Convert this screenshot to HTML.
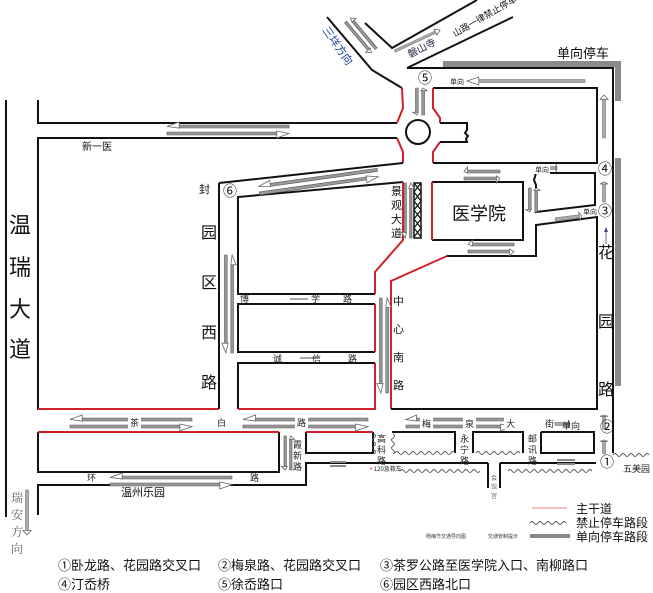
<!DOCTYPE html>
<html><head><meta charset="utf-8">
<style>
html,body{margin:0;padding:0;background:#fff;}
svg{display:block;font-family:"Liberation Sans","Noto Sans CJK SC",sans-serif;}
.k{fill:none;stroke:#111;stroke-width:2;}
.r{fill:none;stroke:#d0202a;stroke-width:2;}
.w{fill:none;stroke:#555;stroke-width:0.9;}
.bg{fill:#fff;}
</style></head><body>
<svg width="653" height="593" viewBox="0 0 653 593" xmlns="http://www.w3.org/2000/svg">
<defs>
<g id="da">
<rect x="9" y="-5" width="91" height="3" fill="#999" stroke="#555" stroke-width="0.6" vector-effect="non-scaling-stroke"/>
<polygon points="0,-3.5 10,-8 10,-2" fill="#fff" stroke="#666" stroke-width="0.8" vector-effect="non-scaling-stroke"/>
<rect x="0" y="2" width="91" height="3" fill="#999" stroke="#555" stroke-width="0.6" vector-effect="non-scaling-stroke"/>
<polygon points="100,3.5 90,1 90,8" fill="#fff" stroke="#666" stroke-width="0.8" vector-effect="non-scaling-stroke"/>
</g>
<g id="sa">
<rect x="9" y="-1.5" width="91" height="3" fill="#aaa" stroke="#666" stroke-width="0.5" vector-effect="non-scaling-stroke"/>
<polygon points="0,0 10,-4 10,4" fill="#fff" stroke="#666" stroke-width="0.8" vector-effect="non-scaling-stroke"/>
</g>
</defs>

<line x1="6" y1="100" x2="6" y2="517" class="k"/>

<polyline points="38,100 38,123 397,123" class="k"/>
<polyline points="38,515 38,485 306,485 306,463 488,463" class="k"/>
<line x1="500" y1="463" x2="596" y2="463" class="k"/>
<polyline points="488,463 488,488" class="k"/>
<polyline points="500,463 500,488" class="k"/>
<polyline points="219,409 38,409 38,138 397,138" class="k"/>
<line x1="38" y1="409" x2="219" y2="409" class="r"/>
<line x1="219" y1="183" x2="219" y2="409" class="k"/>

<polyline points="327,17 372,70 402,88" class="k"/>
<polyline points="402,88 403,108 397,123" class="r"/>
<polyline points="397,138 403,152 403,163" class="r"/>
<polyline points="403,163 219,183" class="k"/>
<polyline points="365,23 392,48 477,0" class="k"/>
<polyline points="407,68 513,17" class="k"/>
<circle cx="418" cy="132" r="12" class="k" stroke-width="1.5"/>
<polyline points="433,88 433,108 440,118 440,123" class="r"/>
<polyline points="440,123 467,123 467,130 465,133 468,136 466,139 467,142 440,142" class="k" stroke-width="1.5"/>
<polyline points="440,142 433,152 433,163" class="r"/>
<polyline points="433,88 597,88 597,163 433,163" class="k"/>
<line x1="433" y1="88" x2="433" y2="108" class="r"/>
<polyline points="407,68 613,68 613,228" class="k"/>
<rect x="443" y="61" width="177" height="6" fill="#8a8a8a"/>
<rect x="615" y="61" width="6" height="40" fill="#8a8a8a"/>
<rect x="615" y="158" width="6" height="228" fill="#8a8a8a"/>
<line x1="613" y1="228" x2="613" y2="453" class="k"/>

<polyline points="375,294 238,294 238,197 403,182" class="k"/>
<polyline points="403,182 403,240 375,272 375,294" class="r"/>
<polyline points="375,304 238,304 238,352 375,352" class="k"/>
<line x1="375" y1="304" x2="375" y2="352" class="r"/>
<polyline points="375,363 238,363 238,409" class="k"/>
<polyline points="375,363 375,409 238,409" class="r"/>
<rect x="414" y="183" width="7" height="55" fill="#fff" stroke="#111" stroke-width="1.5"/>
<polyline points="414,183 421,192 414,201 421,210 414,219 421,228 414,237" fill="none" stroke="#111" stroke-width="1.2"/>
<polyline points="421,183 414,192 421,201 414,210 421,219 414,228 421,237" fill="none" stroke="#111" stroke-width="1.2"/>
<polyline points="432,182 523,182 523,240 432,240" class="k"/>
<line x1="432" y1="182" x2="432" y2="240" class="r"/>
<polyline points="536,173 595,173 595,205 536,212 536,185 534,180 536,173" class="k"/>
<polyline points="391,409 391,281 447,256" class="r"/>
<polyline points="447,256 536,256 536,225 597,217 597,409 391,409" class="k"/>

<polyline points="38,432 38,472 279,472 279,432" class="k"/>
<line x1="38" y1="432" x2="279" y2="432" class="r"/>
<polyline points="306,432 306,453 373,453 373,432" class="k"/>
<line x1="306" y1="432" x2="373" y2="432" class="r"/>
<polyline points="392,432 455,432 455,453" class="k"/>
<polyline points="473,453 473,432 523,432 523,453" class="k"/>
<polyline points="541,432 594,432 594,453 541,453 541,432" class="k"/>
<path d="M374,434 q3,2 0,4 q-3,2 0,4 q3,2 0,4 q-3,2 0,4 q3,2 0,4" class="w"/>
<path d="M393,434 q3,2 0,4 q-3,2 0,4 q3,2 0,4 q-3,2 0,4 q3,2 0,4" class="w"/>
<path d="M395,453 q2,-3 4,0 q2,3 4,0 q2,-3 4,0 q2,3 4,0 q2,-3 4,0 q2,3 4,0 q2,-3 4,0 q2,3 4,0 q2,-3 4,0 q2,3 4,0 q2,-3 4,0 q2,3 4,0 q2,-3 4,0 q2,3 4,0 q2,-3 4,0" class="w"/>
<path d="M476,453 q2,-3 4,0 q2,3 4,0 q2,-3 4,0 q2,3 4,0 q2,-3 4,0 q2,3 4,0 q2,-3 4,0 q2,3 4,0 q2,-3 4,0 q2,3 4,0 q2,-3 4,0" class="w"/>
<path d="M400,471 q2,-3 4,0 q2,3 4,0 q2,-3 4,0 q2,3 4,0 q2,-3 4,0 q2,3 4,0 q2,-3 4,0 q2,3 4,0 q2,-3 4,0 q2,3 4,0 q2,-3 4,0 q2,3 4,0 q2,-3 4,0 q2,3 4,0 q2,-3 4,0 q2,3 4,0 q2,-3 4,0 q2,3 4,0 q2,-3 4,0 q2,3 4,0" class="w"/>
<path d="M508,471 q2,-3 4,0 q2,3 4,0 q2,-3 4,0 q2,3 4,0 q2,-3 4,0 q2,3 4,0 q2,-3 4,0 q2,3 4,0 q2,-3 4,0 q2,3 4,0 q2,-3 4,0 q2,3 4,0 q2,-3 4,0 q2,3 4,0 q2,-3 4,0 q2,3 4,0 q2,-3 4,0 q2,3 4,0 q2,-3 4,0 q2,3 4,0 q2,-3 4,0" class="w"/>
<path d="M613,455 q2,-3 4,0 q2,3 4,0 q2,-3 4,0 q2,3 4,0 q2,-3 4,0 q2,3 4,0 q2,-3 4,0 q2,3 4,0 q2,-3 4,0" class="w"/>

<use href="#da" transform="translate(167,130) scale(1.22,1)"/>
<use href="#da" transform="translate(259,190) rotate(-8) scale(1.2,1)"/>
<use href="#da" transform="translate(420,115) rotate(-90) scale(0.27,0.9)"/>
<use href="#da" transform="translate(464,175) scale(0.36,1)"/>
<use href="#da" transform="translate(468,248) scale(0.46,1)"/>
<use href="#da" transform="translate(533,212) rotate(-90) scale(0.24,0.9)"/>
<use href="#da" transform="translate(408,238) rotate(-90) scale(0.55,0.8)"/>
<use href="#da" transform="translate(229,255) rotate(90) scale(0.98,0.9)"/>
<use href="#da" transform="translate(384,298) rotate(90) scale(0.95,0.9)"/>
<use href="#da" transform="translate(70,423) scale(1.22,1)"/>
<use href="#da" transform="translate(243,423) scale(1.25,1)"/>
<use href="#da" transform="translate(406,423) scale(1.05,1)"/>
<use href="#da" transform="translate(288,436) rotate(90) scale(0.34,0.8)"/>
<use href="#da" transform="translate(110,481) scale(1.22,1)"/>
<use href="#da" transform="translate(348,20) rotate(50) scale(0.4,0.9)"/>
<use href="#sa" transform="translate(467,81) scale(1.18,1)"/>
<use href="#sa" transform="translate(604,95) rotate(90) scale(0.43,1)"/>
<use href="#sa" transform="translate(604,182) rotate(90) scale(0.2,1)"/>
<use href="#sa" transform="translate(604,415) rotate(90) scale(0.14,1)"/>
<use href="#sa" transform="translate(604,440) rotate(90) scale(0.14,1)"/>
<use href="#sa" transform="translate(440,30) rotate(155) scale(0.5,0.8)"/>
<use href="#sa" transform="translate(582,216) rotate(173) scale(0.27,1)"/>
<use href="#sa" transform="translate(570,424) rotate(180) scale(0.15,1)"/>
<use href="#sa" transform="translate(557,168) rotate(180) scale(0.1,1)"/>
<use href="#sa" transform="translate(27,535) rotate(-90) scale(0.45,1)"/>
<line x1="606" y1="228" x2="606" y2="244" stroke="#447" stroke-width="0.8"/>
<polygon points="606,227 604,232 608,232" fill="#447"/>
<rect x="330" y="461" width="16" height="2" fill="#888"/><rect x="330" y="465" width="16" height="2" fill="#888"/>
<rect x="557" y="459" width="18" height="2" fill="#888"/><rect x="557" y="463" width="18" height="2" fill="#888"/>
<line x1="290" y1="299" x2="308" y2="299" stroke="#555"/><line x1="300" y1="358" x2="316" y2="358" stroke="#555"/>

<!-- label backgrounds on arrows -->
<rect class="bg" x="128" y="416" width="13" height="13"/>
<rect class="bg" x="295" y="416" width="13" height="13"/>
<rect class="bg" x="420" y="416" width="13" height="13"/>
<rect class="bg" x="463" y="416" width="13" height="13"/>
<rect class="bg" x="504" y="416" width="13" height="13"/>
<rect class="bg" x="533" y="165" width="17" height="9"/>

<g font-size="22" fill="#111">
<text x="9" y="233">温</text><text x="9" y="275">瑞</text><text x="9" y="317">大</text><text x="9" y="357">道</text>
</g>
<g font-size="16" fill="#111">
<text x="201" y="238">园</text><text x="201" y="288">区</text><text x="201" y="338">西</text><text x="201" y="388">路</text>
<text x="598" y="258">花</text><text x="598" y="327">园</text><text x="598" y="395">路</text>
</g>
<text x="452" y="220" font-size="18" fill="#111">医学院</text>
<text x="557" y="58" font-size="13" fill="#111">单向停车</text>
<g font-size="11" fill="#111">
<text x="391" y="195">景</text><text x="391" y="209">观</text><text x="391" y="223">大</text><text x="391" y="237">道</text>
<text x="393" y="305">中</text><text x="393" y="333">心</text><text x="393" y="361">南</text><text x="393" y="389">路</text>
<text x="199" y="193">封</text>
<text x="82" y="150" font-size="10">新一医</text>
</g>
<g font-size="9" fill="#222">
<text x="130" y="426">茶</text><text x="217" y="426">白</text><text x="297" y="426">路</text>
<text x="422" y="427">梅</text><text x="465" y="427">泉</text><text x="506" y="427">大</text><text x="545" y="427">街</text><text x="562" y="429">单向</text>
<text x="240" y="302">博</text><text x="311" y="302">学</text><text x="343" y="302">路</text>
<text x="273" y="362">诚</text><text x="312" y="362">信</text><text x="348" y="362">路</text>
<text x="377" y="442">高</text><text x="377" y="453">科</text><text x="377" y="464">路</text>
<text x="460" y="442">永</text><text x="460" y="453">宁</text><text x="460" y="464">路</text>
<text x="528" y="442">邮</text><text x="528" y="453">讯</text><text x="528" y="464">路</text>
<text x="293" y="448">霞</text><text x="293" y="459">新</text><text x="293" y="470">路</text>
<text x="87" y="481">环</text><text x="250" y="481">路</text>
<text x="623" y="472">五美园</text>
<text x="450" y="84" font-size="7">单向</text>
<text x="535" y="172" font-size="7">单向</text>
<text x="583" y="214" font-size="7">单向</text>
<text x="370" y="471" font-size="6"><tspan fill="#d0202a">•</tspan> 120急救车</text>
<text x="491" y="480" font-size="6" fill="#666">会</text><text x="491" y="489" font-size="6" fill="#666">馆</text><text x="491" y="498" font-size="6" fill="#666">宫</text>
</g>
<text x="121" y="496" font-size="11" fill="#111">温州乐园</text>
<g font-size="12" fill="#666" font-family="'Liberation Serif','Noto Serif CJK SC',serif">
<text x="11" y="502">瑞</text><text x="11" y="519">安</text><text x="11" y="536">方</text><text x="11" y="553">向</text>
</g>
<text x="455" y="37" font-size="9" fill="#111" transform="rotate(-30 455 37)">山路一律禁止停车</text>
<text x="410" y="58" font-size="10" fill="#224" transform="rotate(-27 410 58)">磐山寺</text>
<text x="322" y="30" font-size="11" fill="#2244aa" transform="rotate(55 322 30)">三垟方向</text>
<g font-size="14" fill="#111">
<text x="418" y="83">⑤</text><text x="223" y="196">⑥</text><text x="598" y="174">④</text><text x="598" y="216">③</text>
<text x="600" y="432">②</text><text x="600" y="467">①</text>
</g>
<line x1="532" y1="508" x2="567" y2="508" stroke="#f08080" stroke-width="1"/>
<text x="576" y="513" font-size="12" fill="#111">主干道</text>
<path d="M530,523 q2,-3 4,0 q2,3 4,0 q2,-3 4,0 q2,3 4,0 q2,-3 4,0 q2,3 4,0 q2,-3 4,0 q2,3 4,0 q2,-3 4,0" class="w"/>
<text x="576" y="527" font-size="12" fill="#111">禁止停车路段</text>
<rect x="530" y="534" width="40" height="4" fill="#888"/>
<text x="576" y="541" font-size="12" fill="#111">单向停车路段</text>
<text x="426" y="538" font-size="5" fill="#333">杨梅节交通导向图</text>
<text x="488" y="538" font-size="5" fill="#333">交通管制提示</text>
<g font-size="13" fill="#111">
<text x="58" y="570">①卧龙路、花园路交叉口</text>
<text x="218" y="570">②梅泉路、花园路交叉口</text>
<text x="380" y="570">③茶罗公路至医学院入口、南柳路口</text>
<text x="58" y="589">④汀岙桥</text>
<text x="218" y="589">⑤徐岙路口</text>
<text x="380" y="589">⑥园区西路北口</text>
</g>
</svg>
</body></html>
